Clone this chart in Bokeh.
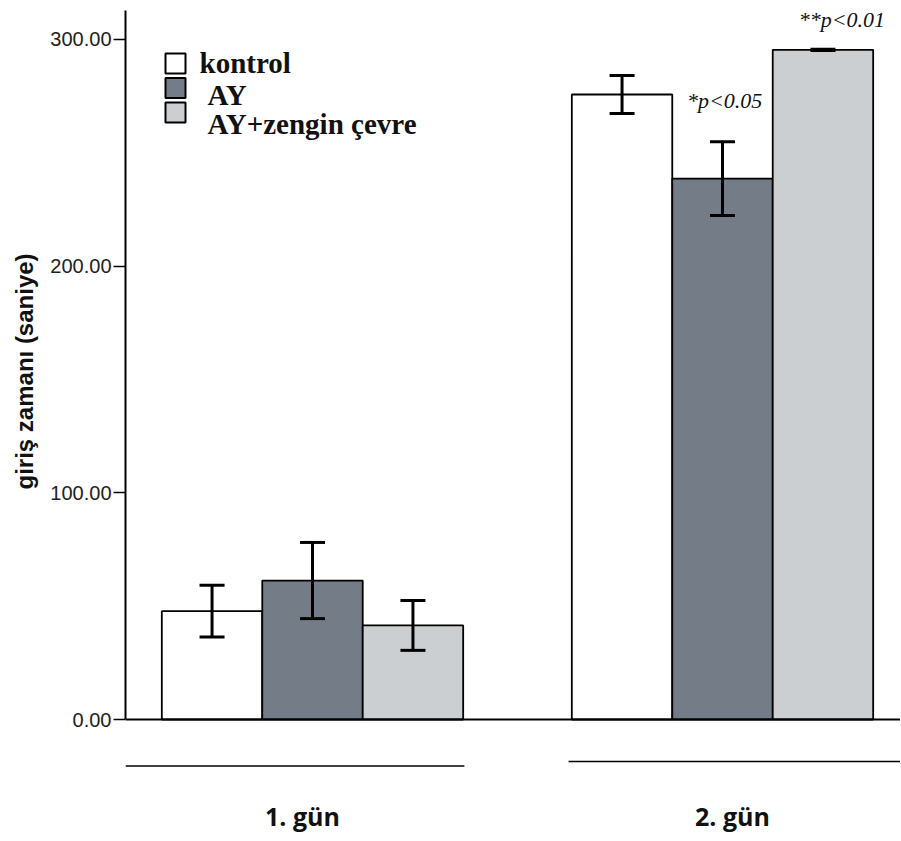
from bokeh.plotting import figure
from bokeh.models import (ColumnDataSource, Whisker, TeeHead, FixedTicker,
                          NumeralTickFormatter, Span, Range1d, Title)
from bokeh.core.properties import value
from bokeh.embed import file_html
from bokeh.resources import INLINE

# ---- data ----
days = ["1. gün", "2. gün"]
groups = ["kontrol", "AY", "AY+zengin çevre"]
kontrol_mean = [47.8, 275.7]
kontrol_err = [11.4, 8.4]
ay_mean = [61.3, 238.6]
ay_err = [16.8, 16.3]
zc_mean = [41.5, 295.4]
zc_err = [11.0, 0.3]
sig_day2 = ["", "*p<0.05", "**p<0.01"]
y_ticks = [0, 100, 200, 300]
y_title = "giriş zamanı (saniye)"

means = [kontrol_mean, ay_mean, zc_mean]
errs = [kontrol_err, ay_err, zc_err]
fills = ["#ffffff", "#747c88", "#cbcfd1"]

# ---- layout (pixel geometry) ----
W, H = 900, 838
BL, BT = 125, 10
PXX = 410.0          # px per x unit
PXY = 2.267          # px per y unit
day_pos = [1.0, 2.0]
bw = 0.245
offsets = [-bw, 0.0, bw]
x0 = 1.0 - (312 - BL) / PXX
x1 = x0 + (W - BL) / PXX
y1 = (719 - BT) / PXY
y0 = y1 - (H - BT) / PXY


def sx(px):
    return x0 + (px - BL) / PXX


def sy(py):
    return y1 - (py - BT) / PXY


p = figure(width=W, height=H, output_backend="svg", toolbar_location=None,
           x_range=Range1d(x0, x1), y_range=Range1d(y0, y1),
           x_axis_location=None, min_border_left=BL, min_border_top=BT,
           min_border_right=0, min_border_bottom=0)
p.outline_line_color = None
p.xgrid.visible = False
p.ygrid.visible = False
p.background_fill_color = "white"

wb, wu, wl = [], [], []
for gi in range(3):
    xs = [d + offsets[gi] for d in day_pos]
    src = ColumnDataSource(dict(x=xs, top=means[gi]))
    p.vbar(x="x", top="top", bottom=0, width=bw, source=src,
           fill_color=fills[gi], line_color="black", line_width=1.8)
    for k in range(2):
        wb.append(xs[k])
        wu.append(means[gi][k] + errs[gi][k])
        wl.append(means[gi][k] - errs[gi][k])

wsrc = ColumnDataSource(dict(base=wb, upper=wu, lower=wl))
wh = Whisker(source=wsrc, base="base", upper="upper", lower="lower",
             line_width=3, line_color="black", level="overlay",
             upper_head=TeeHead(size=25, line_width=3, line_color="black"),
             lower_head=TeeHead(size=25, line_width=3, line_color="black"))
p.add_layout(wh)

# baseline
p.add_layout(Span(location=0, dimension="width", line_color="black", line_width=1.8))

# significance labels on day 2
tx, ty, tt = [], [], []
pad_x = [0.0, 0.005, 0.046]
pad_y = [0.0, 18.0, 13.0]
for gi in range(3):
    if sig_day2[gi]:
        tx.append(day_pos[1] + offsets[gi] + pad_x[gi])
        ty.append(means[gi][1] + errs[gi][1] + pad_y[gi])
        tt.append(sig_day2[gi])
p.text(x=tx, y=ty, text=tt, text_font=value("Liberation Serif"),
       text_font_style="italic", text_font_size="22px", text_color="#111111",
       text_align="center", text_baseline="middle")

# category group lines and labels
p.segment(x0=[x0, day_pos[1] - 1.5 * bw - 0.008], y0=[sy(765.5), sy(761)],
          x1=[day_pos[0] + 1.5 * bw + 0.003, x1], y1=[sy(765.5), sy(761)],
          line_color="black", line_width=1.6)
lab_dx = [-10 / PXX, 10 / PXX]
p.text(x=[day_pos[i] + lab_dx[i] for i in range(2)], y=[sy(815)] * 2, text=days,
       text_font=value("Open Sans"), text_font_style="bold",
       text_font_size="25px", text_color="#111111",
       text_align="center", text_baseline="middle")

# y axis
ax = p.yaxis[0]
ax.ticker = FixedTicker(ticks=y_ticks)
ax.formatter = NumeralTickFormatter(format="0.00")
ax.bounds = (0, y1)
ax.axis_line_width = 2
ax.axis_line_color = "black"
ax.major_tick_line_width = 1.5
ax.major_tick_out = 12
ax.major_tick_in = 0
ax.minor_tick_line_color = None
ax.major_label_standoff = 2
ax.major_label_text_font = "Liberation Sans"
ax.major_label_text_font_size = "20px"
ax.major_label_text_color = "#222222"

# y-axis title (side title, shifted so it sits beside the 0-300 span)
p.add_layout(Title(text=y_title, align="left", offset=(H - 489), standoff=16,
                   vertical_align="top",
                   text_font="Liberation Sans", text_font_style="bold",
                   text_font_size="24px", text_color="#111111"), "left")

# legend (drawn manually to match the tight row spacing)
leg_box_y = [63, 87.5, 112]
leg_txt_y = [62, 94, 123]
leg_txt_x = [199, 207, 207]
p.scatter(x=[sx(175)] * 3, y=[sy(v) for v in leg_box_y], marker="square",
          size=20, fill_color=fills, line_color="black", line_width=2)
p.text(x=[sx(v) for v in leg_txt_x], y=[sy(v) for v in leg_txt_y], text=groups,
       text_font=value("Liberation Serif"), text_font_style="bold",
       text_font_size="29px", text_color="#111111",
       text_align="left", text_baseline="alphabetic")

open("out.html", "w").write(file_html(p, INLINE))
